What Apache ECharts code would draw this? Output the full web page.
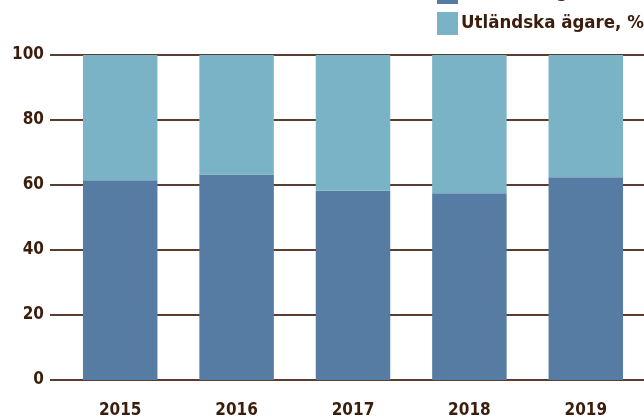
<!DOCTYPE html>
<html>
<head>
<meta charset="utf-8">
<script src="https://cdn.jsdelivr.net/npm/echarts@6/dist/echarts.min.js"></script>
<style>
  html, body { margin: 0; padding: 0; background: #fff; }
  #main { width: 644px; height: 419px; }
</style>
</head>
<body>
<div id="main"></div>
<script>
const years = ['2015', '2016', '2017', '2018', '2019'];
const swedish = [61.5, 63.2, 58.2, 57.5, 62.4];
const foreign = [38.5, 36.8, 41.8, 42.5, 37.6];
const seriesNames = ['Svenska ägare, %', 'Utländska ägare, %'];

const textColor = '#3b1d0c';
const lineColor = '#5a3d2e';
const font = '"DejaVu Sans Condensed", "DejaVu Sans", sans-serif';

const chart = echarts.init(document.getElementById('main'), null, { renderer: 'canvas' });

chart.setOption({
  animation: false,
  color: ['#567ca4', '#7bb3c6'],
  legend: {
    orient: 'vertical',
    left: 432,
    top: -24,
    itemWidth: 21,
    itemHeight: 23,
    itemGap: 8,
    icon: 'rect',
    textStyle: {
      fontFamily: font,
      fontWeight: 'bold',
      fontSize: 18.5,
      color: textColor,
      padding: [0, 0, 0, -2]
    },
    data: seriesNames
  },
  grid: {
    left: 62,
    right: -3,
    top: 55,
    bottom: 39
  },
  xAxis: {
    type: 'category',
    data: years,
    axisLine: { lineStyle: { color: lineColor, width: 2 } },
    axisTick: { show: false },
    axisLabel: {
      margin: 22,
      fontFamily: font,
      fontWeight: 'bold',
      fontSize: 17,
      color: textColor
    }
  },
  yAxis: {
    type: 'value',
    min: 0,
    max: 100,
    interval: 20,
    axisLine: { show: false },
    axisTick: { show: true, length: 12, lineStyle: { color: lineColor, width: 2 } },
    splitLine: { lineStyle: { color: lineColor, width: 2 } },
    axisLabel: {
      margin: 18,
      fontFamily: font,
      fontWeight: 'bold',
      fontSize: 17,
      color: textColor
    }
  },
  series: [
    {
      name: seriesNames[0],
      type: 'bar',
      stack: 'total',
      barCategoryGap: '36%',
      data: swedish
    },
    {
      name: seriesNames[1],
      type: 'bar',
      stack: 'total',
      barCategoryGap: '36%',
      data: foreign
    }
  ]
});
</script>
</body>
</html>
